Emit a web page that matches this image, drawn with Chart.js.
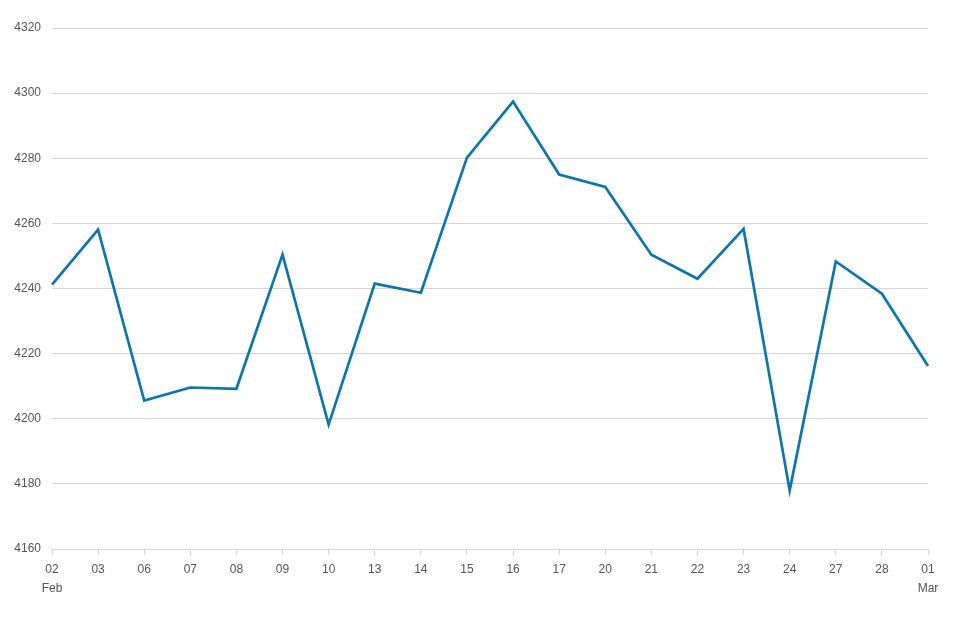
<!DOCTYPE html>
<html>
<head>
<meta charset="utf-8">
<script src="https://cdn.jsdelivr.net/npm/chart.js@4/dist/chart.umd.min.js"></script>
<style>
  html, body { margin: 0; padding: 0; background: #fff; }
  #wrap { width: 969px; height: 619px; }
</style>
</head>
<body>
<div id="wrap"><canvas id="priceChart" width="969" height="619"></canvas></div>
<script>
// Daily values, Feb 02 - Mar 01
const dayLabels = [['02', 'Feb'], '03', '06', '07', '08', '09', '10', '13', '14', '15',
  '16', '17', '20', '21', '22', '23', '24', '27', '28', ['01', 'Mar']];
const closeValues = [4241.2, 4258.1, 4205.6, 4209.6, 4209.2, 4250.4, 4198.2, 4241.5, 4238.7, 4280.2,
  4297.4, 4275.0, 4271.2, 4250.4, 4243.0, 4258.3, 4178.0, 4248.3, 4238.4, 4216.2];
const yTicks = [4160, 4180, 4200, 4220, 4240, 4260, 4280, 4300, 4320];

const gridColor = '#dfd2d8';
const textColor = '#555';
const fontFamily = 'Liberation Sans, Arial, sans-serif';

const ctx = document.getElementById('priceChart');
new Chart(ctx, {
  type: 'line',
  data: {
    labels: dayLabels,
    datasets: [{
      data: closeValues,
      borderColor: '#0f76ab',
      borderWidth: 2.7,
      pointRadius: 0,
      tension: 0,
      fill: false
    }]
  },
  options: {
    responsive: false,
    animation: false,
    layout: { padding: { top: 28, right: 41, left: 0, bottom: 0 } },
    plugins: {
      legend: { display: false },
      tooltip: { enabled: false }
    },
    scales: {
      x: {
        offset: false,
        grid: { drawOnChartArea: false, color: gridColor, tickLength: 6 },
        border: { color: gridColor },
        ticks: {
          color: textColor,
          font: { family: fontFamily, size: 12, lineHeight: 1.6 },
          maxRotation: 0,
          autoSkip: false,
          padding: 5
        },
        afterFit: (scale) => { scale.height = 70; }
      },
      y: {
        min: 4160,
        max: 4320,
        afterBuildTicks: (scale) => { scale.ticks = yTicks.map(v => ({ value: v })); },
        grid: { color: gridColor, drawTicks: false },
        border: { display: false },
        ticks: {
          color: textColor,
          font: { family: fontFamily, size: 12 },
          padding: 11,
          callback: (v) => String(v)
        },
        afterFit: (scale) => { scale.width = 52; }
      }
    }
  }
});
</script>
</body>
</html>
